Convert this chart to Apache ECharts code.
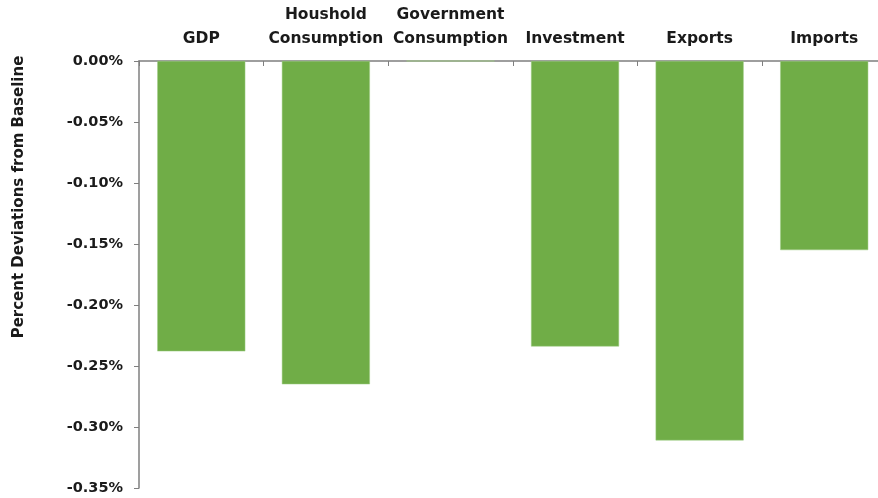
<!DOCTYPE html>
<html>
<head>
<meta charset="utf-8">
<script src="https://cdn.jsdelivr.net/npm/echarts@6/dist/echarts.min.js"></script>
<style>
  html, body { margin: 0; padding: 0; background: #ffffff; }
  #chart { width: 878px; height: 498px; }
</style>
</head>
<body>
<div id="chart"></div>
<script>
// Components of demand, percent deviation from baseline
const categories = ['GDP', 'Houshold\nConsumption', 'Government\nConsumption', 'Investment', 'Exports', 'Imports'];
const deviations = [-0.238, -0.265, 0, -0.234, -0.311, -0.155];
const yTicks = { min: -0.35, max: 0, step: 0.05 };
const yTitle = 'Percent Deviations from Baseline';

const FONT = 'DejaVu Sans';
const chart = echarts.init(document.getElementById('chart'), null, { renderer: 'canvas' });

chart.setOption({
  animation: false,
  backgroundColor: '#ffffff',
  // the plot runs slightly past the right edge of the canvas
  grid: {
    left: 139, top: 61, width: 747.5, height: 427,
    containLabel: false,
    outerBoundsMode: 'none'
  },
  graphic: [{
    type: 'text',
    x: 19,
    y: 197,
    rotation: Math.PI / 2,
    style: {
      text: yTitle,
      font: 'bold 15px "' + FONT + '"',
      fill: '#1a1a1a',
      align: 'center',
      verticalAlign: 'middle'
    }
  }],
  xAxis: {
    type: 'category',
    position: 'top',
    data: categories,
    axisLine: { show: true, lineStyle: { color: '#7f7f7f', width: 1.5 } },
    axisTick: { show: true, inside: true, length: 5, lineStyle: { color: '#7f7f7f' } },
    axisLabel: {
      interval: 0,
      margin: 10,
      color: '#1a1a1a',
      fontFamily: FONT,
      fontWeight: 'bold',
      fontSize: 15.5,
      lineHeight: 24
    },
    splitLine: { show: false }
  },
  yAxis: {
    type: 'value',
    min: yTicks.min,
    max: yTicks.max,
    interval: yTicks.step,
    axisLine: { show: true, lineStyle: { color: '#7f7f7f', width: 1.5 } },
    axisTick: { show: true, length: 5, lineStyle: { color: '#7f7f7f' } },
    axisLabel: {
      margin: 16,
      color: '#1a1a1a',
      fontFamily: FONT,
      fontWeight: 'bold',
      fontSize: 14.5,
      formatter: v => v.toFixed(2) + '%'
    },
    splitLine: { show: false }
  },
  series: [{
    type: 'bar',
    data: deviations,
    barWidth: 88,
    itemStyle: { color: '#70ad47', borderColor: '#9ccc82', borderWidth: 0.5 }
  }]
});
</script>
</body>
</html>
